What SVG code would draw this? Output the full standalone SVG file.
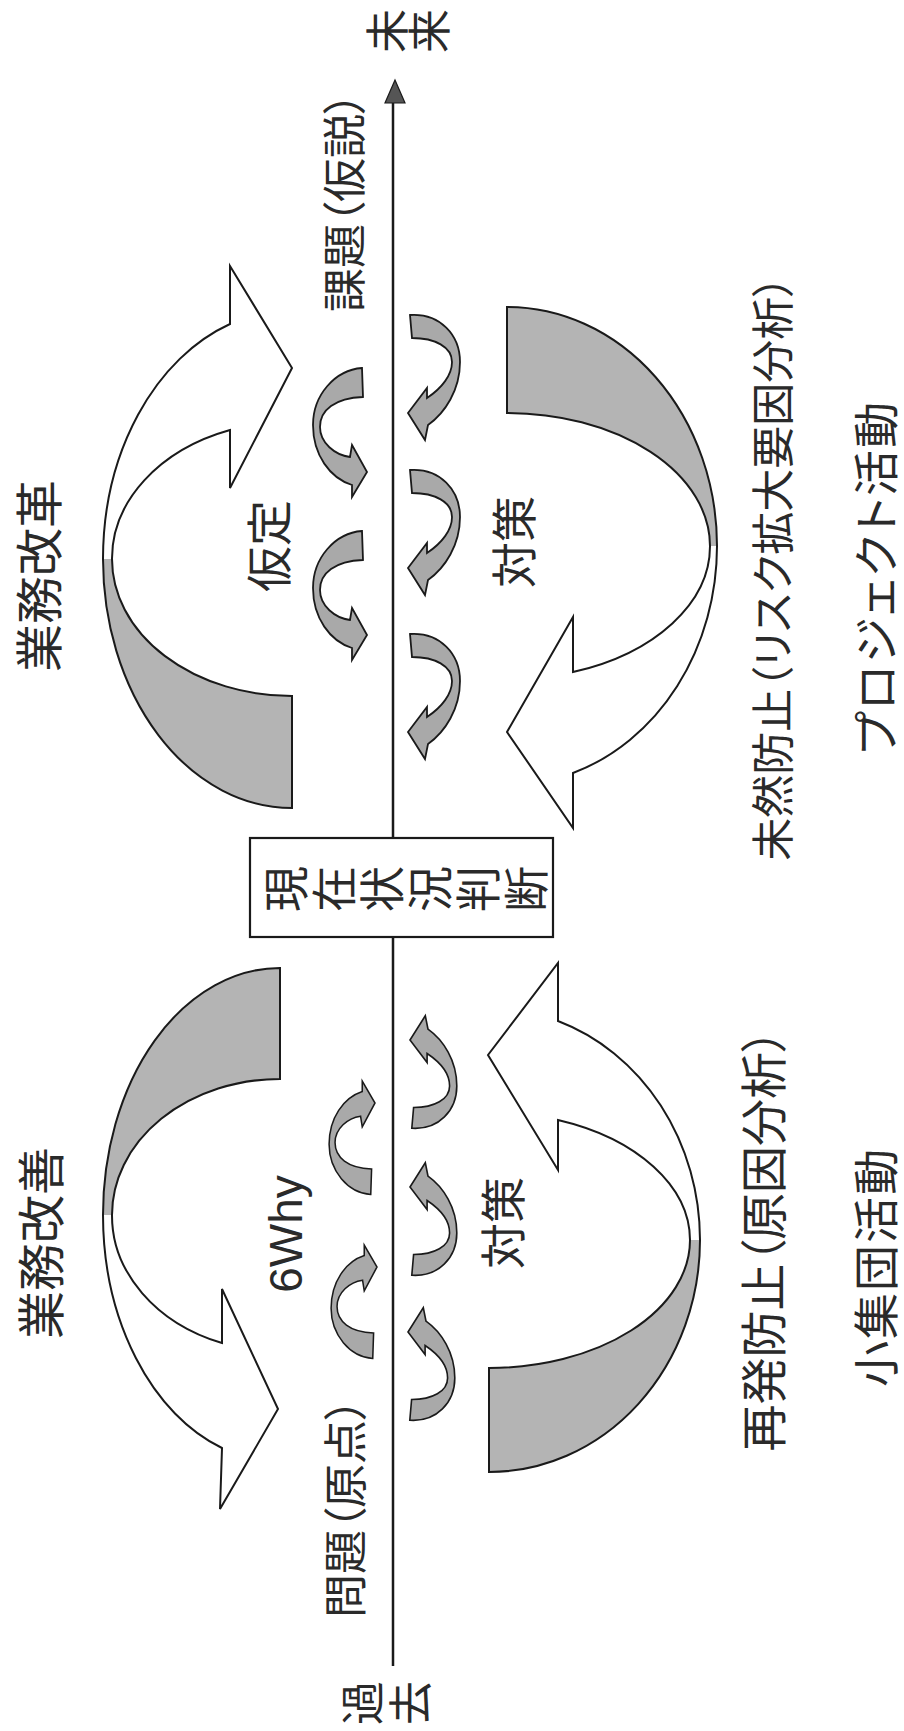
<svg xmlns="http://www.w3.org/2000/svg" width="904" height="1731" viewBox="0 0 904 1731">
<defs>
<style>
.t{font-family:"Noto Sans CJK JP","Noto Sans",sans-serif;fill:#2a2a2a;text-anchor:middle;dominant-baseline:central;font-feature-settings:"palt";}
.lat{font-family:"Liberation Sans",Arial,sans-serif;fill:#2a2a2a;text-anchor:middle;}
.shade{fill:#b4b4b4;stroke:none;}
.white{fill:#fff;stroke:none;}
.ol{fill:none;stroke:#1a1a1a;stroke-width:2;stroke-linejoin:miter;}
.sa{fill:#a9a9a9;stroke:#1a1a1a;stroke-width:1.8;stroke-linejoin:miter;}
</style>
<path id="saL" d="M -5,-104 C -32,-102 -54,-77 -54,-47 C -54,-17 -37,6 -15,13 L -15,25 L 0,0 L -15,-27 L -17,-15 C -32,-17 -47,-29 -47,-45 C -47,-62 -32,-74 -4,-75 Z"/>
<path id="saR" d="M 2,-98 C 32,-100 52,-78 52,-51 C 52,-23 37,0 20,12 L 17,27 L 0,0 L 19,-25 L 19,-15 C 34,-25 44,-38 44,-51 C 44,-66 27,-75 4,-75 Z"/>
</defs>
<rect x="0" y="0" width="904" height="1731" fill="#fff"/>

<g id="connectors">
<line x1="393" y1="98" x2="393" y2="1666" stroke="#1a1a1a" stroke-width="2.5"/>
<polygon points="395,80 385,103 405,103" fill="#555" stroke="#1a1a1a" stroke-width="1.2"/>
</g>

<g id="arrow-kaikaku">
<path class="shade" d="M 292,808 A 189 249 0 0 1 103,559 L 112,559 A 180 137 0 0 0 292,696 Z"/>
<path class="white" d="M 103,559 A 189 249 0 0 1 230,324 L 230,266 L 292,368 L 230,488 L 230,430 A 180 137 0 0 0 112,559 Z"/>
<path class="ol" d="M 292,808 A 189 249 0 0 1 103,559 A 189 249 0 0 1 230,324 L 230,266 L 292,368 L 230,488 L 230,430 A 180 137 0 0 0 112,559 A 180 137 0 0 0 292,696 Z"/>
</g>

<g id="arrow-kaizen">
<path class="shade" d="M 280,968 A 177 247 0 0 0 103,1215 L 112,1215 A 168 136 0 0 1 280,1079 Z"/>
<path class="white" d="M 103,1215 A 177 247 0 0 0 222,1448 L 220,1509 L 278,1409 L 222,1289 L 222,1343 A 168 136 0 0 1 112,1215 Z"/>
<path class="ol" d="M 280,968 A 177 247 0 0 0 103,1215 A 177 247 0 0 0 222,1448 L 220,1509 L 278,1409 L 222,1289 L 222,1343 A 168 136 0 0 1 112,1215 A 168 136 0 0 1 280,1079 Z"/>
</g>

<g id="arrow-mizen">
<path class="shade" d="M 507,307 A 210 239 0 0 1 717,546 L 710,546 A 203 133 0 0 0 507,413 Z"/>
<path class="white" d="M 717,546 A 210 239 0 0 1 573,773 L 573,828 L 507,732 L 573,617 L 573,672 A 203 133 0 0 0 710,546 Z"/>
<path class="ol" d="M 507,307 A 210 239 0 0 1 717,546 A 210 239 0 0 1 573,773 L 573,828 L 507,732 L 573,617 L 573,672 A 203 133 0 0 0 710,546 A 203 133 0 0 0 507,413 Z"/>
</g>

<g id="arrow-saihatsu">
<path class="shade" d="M 489,1472 A 211 232 0 0 0 700,1240 L 690,1240 A 201 128 0 0 1 489,1368 Z"/>
<path class="white" d="M 700,1240 A 211 232 0 0 0 558,1021 L 558,963 L 488,1055 L 558,1170 L 558,1120 A 201 128 0 0 1 690,1240 Z"/>
<path class="ol" d="M 489,1472 A 211 232 0 0 0 700,1240 A 211 232 0 0 0 558,1021 L 558,963 L 488,1055 L 558,1170 L 558,1120 A 201 128 0 0 1 690,1240 A 201 128 0 0 1 489,1368 Z"/>
</g>

<g id="small-arrows">
<g id="sa-l1"><use href="#saL" class="sa" transform="translate(367,472)"/></g>
<g id="sa-l2"><use href="#saL" class="sa" transform="translate(367,635)"/></g>
<g id="sa-r1"><use href="#saR" class="sa" transform="translate(408,413)"/></g>
<g id="sa-r2"><use href="#saR" class="sa" transform="translate(408,568)"/></g>
<g id="sa-r3"><use href="#saR" class="sa" transform="translate(408,732)"/></g>
<g id="sa-lb1"><use href="#saL" class="sa" transform="translate(375,1103) scale(0.85,-0.88)"/></g>
<g id="sa-lb2"><use href="#saL" class="sa" transform="translate(377,1267) scale(0.85,-0.88)"/></g>
<g id="sa-rb1"><use href="#saR" class="sa" transform="translate(410,1040) scale(0.9,-0.9)"/></g>
<g id="sa-rb2"><use href="#saR" class="sa" transform="translate(410,1187) scale(0.9,-0.9)"/></g>
<g id="sa-rb3"><use href="#saR" class="sa" transform="translate(408,1332) scale(0.9,-0.9)"/></g>
</g>

<g id="node-genzai">
<rect x="250" y="838" width="303" height="99" fill="#fff" stroke="#1a1a1a" stroke-width="2.2"/>
<text class="t" font-size="46" transform="translate(283,889) rotate(-90)">現</text>
<text class="t" font-size="46" transform="translate(331,889) rotate(-90)">在</text>
<text class="t" font-size="46" transform="translate(379,889) rotate(-90)">状</text>
<text class="t" font-size="46" transform="translate(427,889) rotate(-90)">況</text>
<text class="t" font-size="46" transform="translate(475,889) rotate(-90)">判</text>
<text class="t" font-size="46" transform="translate(523,889) rotate(-90)">断</text>
</g>

<g id="label-mirai">
<text class="t" font-size="44" transform="translate(385,31) rotate(-90)">未</text>
<text class="t" font-size="44" transform="translate(427,31) rotate(-90)">来</text>
</g>
<g id="label-kako">
<text class="t" font-size="44" transform="translate(360,1703) rotate(-90)">過</text>
<text class="t" font-size="44" transform="translate(408,1703) rotate(-90)">去</text>
</g>

<g id="label-kaikaku"><text class="t" font-size="48" transform="translate(36,576) rotate(-90)">業務改革</text></g>
<g id="label-kaizen"><text class="t" font-size="48" transform="translate(38,1243) rotate(-90)">業務改善</text></g>
<g id="label-katei"><text class="t" font-size="46" transform="translate(266,546) rotate(-90)">仮定</text></g>
<g id="label-kadai"><text class="t" font-size="44" transform="translate(342,202) rotate(-90)">課題（仮説）</text></g>
<g id="label-mondai"><text class="t" font-size="44" transform="translate(343,1508) rotate(-90)">問題（原点）</text></g>
<g id="label-6why"><text class="lat" font-size="46" transform="translate(302,1234) rotate(-90)">6Why</text></g>
<g id="label-taisaku1"><text class="t" font-size="46" transform="translate(500,1223) rotate(-90)">対策</text></g>
<g id="label-taisaku2"><text class="t" font-size="46" transform="translate(511,542) rotate(-90)">対策</text></g>
<g id="label-mizen"><text class="t" font-size="43" transform="translate(770,568) rotate(-90)">未然防止（リスク拡大要因分析）</text></g>
<g id="label-saihatsu"><text class="t" font-size="47" transform="translate(760,1240) rotate(-90)">再発防止（原因分析）</text></g>
<g id="label-project"><text class="t" font-size="46" textLength="352" lengthAdjust="spacing" transform="translate(873,578) rotate(-90)">プロジェクト活動</text></g>
<g id="label-shoshudan"><text class="t" font-size="46" textLength="238" lengthAdjust="spacing" transform="translate(873,1268) rotate(-90)">小集団活動</text></g>
</svg>
